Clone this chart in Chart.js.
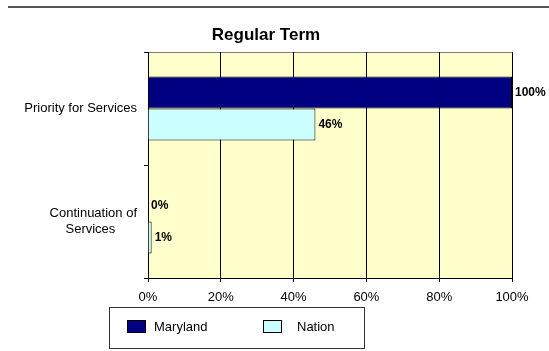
<!DOCTYPE html>
<html>
<head>
<meta charset="utf-8">
<script src="https://cdn.jsdelivr.net/npm/chart.js@4/dist/chart.umd.min.js"></script>
<style>
  html, body { margin: 0; padding: 0; background: #fff; }
  #wrap { width: 549px; height: 351px; }
</style>
</head>
<body>
<div id="wrap"><canvas id="myChart" width="549" height="351"></canvas></div>
<script>
(function () {
    var CATEGORIES = ['Priority for Services', ['Continuation of', 'Services\u00a0\u00a0\u00a0\u00a0\u00a0\u00a0']],
        MARYLAND = [100, 0],
        NATION = [46, 1],
        X_TICKS = [0, 20, 40, 60, 80, 100],
        FONT = '"Liberation Sans", Arial, sans-serif';

    // plot background, top rule, value labels and boxed legend
    var excelLook = {
        id: 'excelLook',
        beforeDraw: function (chart) {
            var ctx = chart.ctx, a = chart.chartArea;
            ctx.save();
            ctx.fillStyle = '#fff';
            ctx.fillRect(0, 0, chart.width, chart.height);
            ctx.strokeStyle = '#555';
            ctx.lineWidth = 2;
            ctx.beginPath();
            ctx.moveTo(8, 7);
            ctx.lineTo(chart.width, 7);
            ctx.stroke();
            ctx.fillStyle = '#FFFFCC';
            ctx.fillRect(a.left, a.top, a.right - a.left, a.bottom - a.top);
            ctx.strokeStyle = '#808080';
            ctx.lineWidth = 1;
            ctx.strokeRect(a.left + 0.5, a.top + 0.5, a.right - a.left, a.bottom - a.top);
            ctx.restore();
        },
        afterDatasetsDraw: function (chart) {
            var ctx = chart.ctx;
            ctx.save();
            ctx.font = 'bold 12px ' + FONT;
            ctx.fillStyle = '#000';
            ctx.textAlign = 'left';
            ctx.textBaseline = 'middle';
            chart.data.datasets.forEach(function (ds, i) {
                chart.getDatasetMeta(i).data.forEach(function (bar, j) {
                    ctx.fillText(ds.data[j] + '%', bar.x + 3, bar.y);
                });
            });
            ctx.restore();
        },
        afterDraw: function (chart) {
            var ctx = chart.ctx,
                items = [{ x: 127, tx: 154 }, { x: 263, tx: 297 }];
            ctx.save();
            ctx.strokeStyle = '#333';
            ctx.lineWidth = 1;
            ctx.strokeRect(109.5, 307.5, 255, 41);
            ctx.font = '13px ' + FONT;
            ctx.textBaseline = 'middle';
            chart.data.datasets.forEach(function (ds, i) {
                ctx.fillStyle = ds.backgroundColor;
                ctx.fillRect(items[i].x, 320, 19, 13);
                ctx.strokeStyle = '#000';
                ctx.strokeRect(items[i].x + 0.5, 320.5, 18, 12);
                ctx.fillStyle = '#000';
                ctx.fillText(ds.label, items[i].tx, 327);
            });
            ctx.restore();
        }
    };

    new Chart(document.getElementById('myChart').getContext('2d'), {
        type: 'bar',
        data: {
            labels: CATEGORIES,
            datasets: [{
                label: 'Maryland',
                data: MARYLAND,
                backgroundColor: '#000080',
                borderColor: '#000',
                borderWidth: 1
            }, {
                label: 'Nation',
                data: NATION,
                backgroundColor: '#CCFFFF',
                borderColor: '#000',
                borderWidth: 1
            }]
        },
        options: {
            indexAxis: 'y',
            responsive: false,
            animation: false,
            categoryPercentage: 0.566,
            barPercentage: 1,
            layout: { padding: { left: 20, right: 37, top: 0, bottom: 43 } },
            plugins: {
                legend: { display: false },
                tooltip: { enabled: false },
                title: {
                    display: true,
                    text: 'Regular Term',
                    color: '#000',
                    font: { family: FONT, size: 17, weight: 'bold' },
                    padding: { top: 25, bottom: 6.6 }
                }
            },
            scales: {
                x: {
                    min: 0,
                    max: 100,
                    afterBuildTicks: function (scale) {
                        scale.ticks = X_TICKS.map(function (v) { return { value: v }; });
                    },
                    afterFit: function (scale) { scale.height = 30; },
                    grid: { color: '#000', lineWidth: 1, tickLength: 4 },
                    border: { color: '#000' },
                    ticks: {
                        color: '#000',
                        padding: 8,
                        maxRotation: 0,
                        font: { family: FONT, size: 13 },
                        callback: function (v) { return v + '%'; }
                    }
                },
                y: {
                    afterFit: function (scale) { scale.width = 128; },
                    grid: { drawOnChartArea: false, color: '#000', tickLength: 4 },
                    border: { color: '#000' },
                    ticks: {
                        color: '#000',
                        padding: 7,
                        font: { family: FONT, size: 13 }
                    }
                }
            }
        },
        plugins: [excelLook]
    });
})();
</script>
</body>
</html>
